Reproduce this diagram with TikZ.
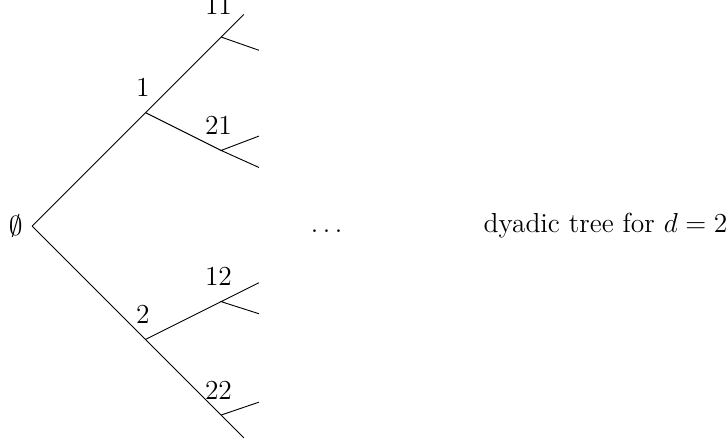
\documentclass[tikz,border=0pt]{standalone}
\usepackage{amsmath,amssymb}
\usepackage{tikz}
\tikzset{
  edge/.style={line width=0.4pt},
  lbl/.style={anchor=base,shift={(-0.07,0.42)}},
  txt/.style={anchor=base},
  every node/.style={font=\large}
}
\begin{document}
\begin{tikzpicture}[x=0.58cm,y=0.58cm]
  \useasboundingbox (-0.85,-5.74) rectangle (18.41,5.98);
  % branch points
  \coordinate (root) at (0,0);
  \coordinate (n1) at (3,3); \coordinate (n2) at (3,-3);
  \coordinate (n11) at (5,5); \coordinate (n21) at (5,2);
  \coordinate (n12) at (5,-2); \coordinate (n22) at (5,-5);
  % loose ends
  \coordinate (t11) at (5.6,5.6); \coordinate (t22) at (5.6,-5.6);
  \coordinate (e11) at (6,4.65);
  \coordinate (e21a) at (6,2.38); \coordinate (e21b) at (6,1.55);
  \coordinate (e12a) at (6,-1.5); \coordinate (e12b) at (6,-2.32);
  \coordinate (e22) at (6,-4.66);
  \draw[edge] (root) -- (n1) -- (n11) -- (t11);
  \draw[edge] (root) -- (n2) -- (n22) -- (t22);
  \draw[edge] (n1) -- (n21); \draw[edge] (n2) -- (n12);
  \draw[edge] (n11) -- (e11);
  \draw[edge] (e21a) -- (n21) -- (e21b);
  \draw[edge] (e12a) -- (n12) -- (e12b);
  \draw[edge] (n22) -- (e22);
  % labels
  \node[left,inner sep=4pt] (lroot) at (root) {$\emptyset$};
  \node[lbl] (l1) at (n1) {1}; \node[lbl] (l2) at (n2) {2};
  \node[lbl,yshift=3pt] (l11) at (n11) {11}; \node[lbl] (l21) at (n21) {21};
  \node[lbl] (l12) at (n12) {12}; \node[lbl] (l22) at (n22) {22};
  \node[txt] (dots) at (7.79,-0.17) {$\ldots$};
  \node[txt] (cap) at (15.17,-0.17) {dyadic tree for $d=2$};
\end{tikzpicture}
\end{document}
